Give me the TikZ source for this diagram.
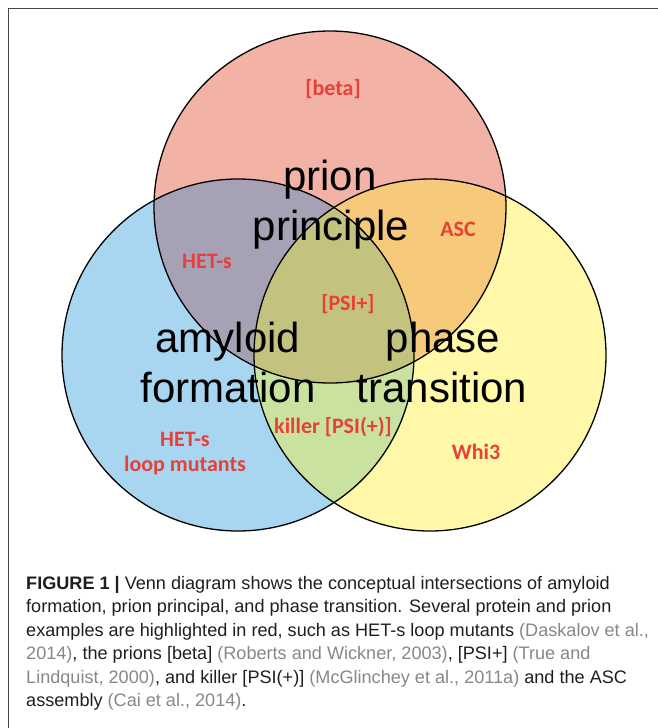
\documentclass[tikz,border=0pt]{standalone}
\usepackage{fontspec}
\setmainfont{Liberation Sans}
\newfontfamily\lblfont{Carlito}
\definecolor{cRed}{RGB}{242,178,166}
\definecolor{cBlue}{RGB}{168,214,240}
\definecolor{cYel}{RGB}{255,248,168}
\definecolor{cRB}{RGB}{167,161,181}
\definecolor{cRY}{RGB}{247,201,123}
\definecolor{cBY}{RGB}{201,226,160}
\definecolor{cAll}{RGB}{195,194,127}
\definecolor{lblRed}{RGB}{232,64,56}
\definecolor{citeGray}{RGB}{135,135,135}
\definecolor{capText}{RGB}{30,30,30}
\definecolor{frameGray}{RGB}{70,70,70}
\newcommand{\cg}[1]{\textcolor{citeGray}{#1}}
\tikzset{
  bigword/.style={anchor=base, font=\fontsize{42}{50}\selectfont, text=black, inner sep=0pt},
  example/.style={anchor=base, font=\lblfont\bfseries\fontsize{22}{26}\selectfont, text=lblRed, inner sep=0pt},
  capline/.style={anchor=base west, font=\fontsize{18.1}{22}\selectfont, text=capText, inner sep=0pt},
  ring/.style={draw=black, line width=1.3pt},
}
\begin{document}
\begin{tikzpicture}[x=1pt,y=-1pt]
\useasboundingbox (0,0) rectangle (657,728);
% frame (open to the right and bottom)
\draw[frameGray, line width=1pt] (8,740) -- (8,8) -- (670,8);
% circle centres
\coordinate (cr) at (330,207);
\coordinate (cb) at (238,355);
\coordinate (cy) at (430,355);
\def\rad{176}
% base fills
\fill[cRed] (cr) circle (\rad);
\fill[cBlue] (cb) circle (\rad);
\fill[cYel] (cy) circle (\rad);
\begin{scope}
  \clip (cr) circle (\rad);
  \fill[cRB] (cb) circle (\rad);
  \fill[cRY] (cy) circle (\rad);
\end{scope}
\begin{scope}
  \clip (cb) circle (\rad);
  \fill[cBY] (cy) circle (\rad);
\end{scope}
\begin{scope}
  \clip (cr) circle (\rad);
  \clip (cb) circle (\rad);
  \fill[cAll] (cy) circle (\rad);
\end{scope}
% outlines
\draw[ring] (cr) circle (\rad);
\draw[ring] (cb) circle (\rad);
\draw[ring] (cy) circle (\rad);
% big words
\node[bigword] (w1) at (330,190) {prion};
\node[bigword] (w2) at (331,240) {principle};
\node[bigword] (w3) at (228,352) {amyloid};
\node[bigword] (w4) at (228,402) {formation};
\node[bigword] (w5) at (443,352) {phase};
\node[bigword] (w6) at (442,402) {transition};
% examples
\node[example] (e1) at (333,95) {[beta]};
\node[example] (e2) at (207,268) {HET-s};
\node[example] (e3) at (458,236) {ASC};
\node[example] (e4) at (348,310) {[PSI+]};
\node[example] (e5) at (185,446) {HET-s};
\node[example] (e6) at (185,471) {loop mutants};
\node[example] (e7) at (333,433) {killer [PSI(+)]};
\node[example] (e8) at (476,459) {Whi3};
% caption
\node[capline] (l1) at (26,589) {\textbf{FIGURE 1 |} Venn diagram shows the conceptual intersections of amyloid};
\node[capline] (l2) at (26,612.5) {formation, prion principal, and phase transition. Several protein and prion};
\node[capline] (l3) at (26,636) {examples are highlighted in red, such as HET-s loop mutants \cg{(Daskalov et al.,}};
\node[capline] (l4) at (26,659.5) {\cg{2014)}, the prions [beta] \cg{(Roberts and Wickner, 2003)}, [PSI+] \cg{(True and}};
\node[capline] (l5) at (26,683) {\cg{Lindquist, 2000)}, and killer [PSI(+)] \cg{(McGlinchey et al., 2011a)} and the ASC};
\node[capline] (l6) at (26,706.5) {assembly \cg{(Cai et al., 2014)}.};
\end{tikzpicture}
\end{document}
